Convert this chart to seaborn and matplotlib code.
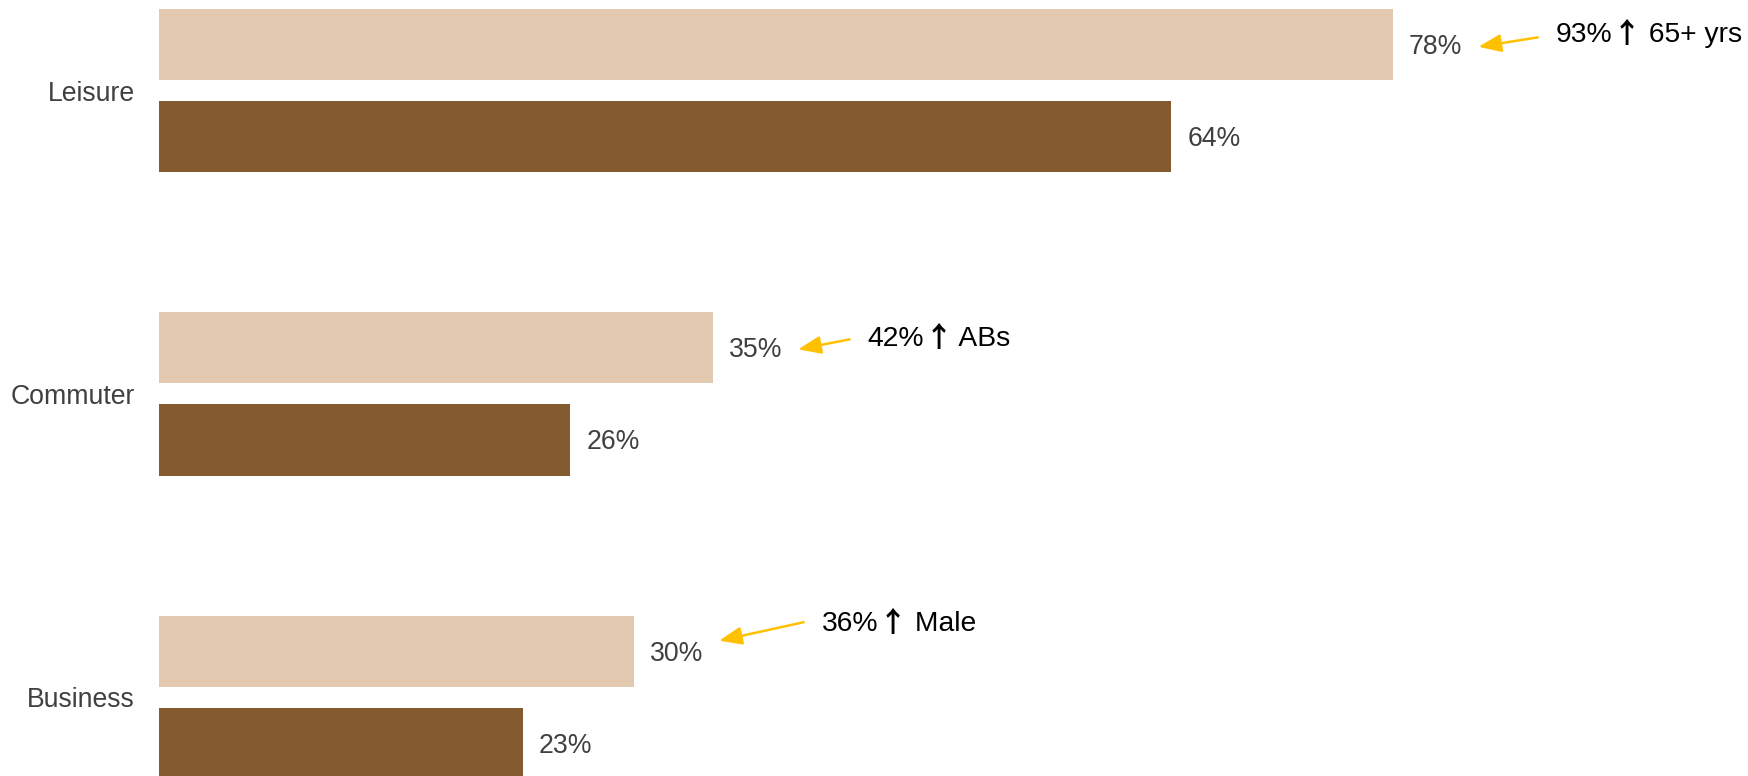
import matplotlib
matplotlib.use("Agg")
import matplotlib.pyplot as plt
import pandas as pd
import seaborn as sns

# Journey purposes and shares for the two waves
journeys = ["Leisure", "Commuter", "Business"]
wave_recent = [78, 35, 30]
wave_earlier = [64, 26, 23]
wave_names = ["Recent", "Earlier"]

# Sub-group call-outs attached to the recent-wave bars: figure, direction, group
callout_values = ["93%", "42%", "36%"]
callout_groups = ["65+ yrs", "ABs", "Male"]
UP = "\u2191"

LIGHT = "#E2C9AF"
DARK = "#845A2F"
GREY = "#404040"
GOLD = "#FFC000"

df = pd.DataFrame({
    "journey": journeys * 2,
    "share": wave_recent + wave_earlier,
    "wave": [wave_names[0]] * len(journeys) + [wave_names[1]] * len(journeys),
})

sns.set_theme(style="white")
plt.rcParams["font.family"] = ["Liberation Sans", "DejaVu Sans"]

W, H = 1748, 776
DPI = 100
fig = plt.figure(figsize=(W / DPI, H / DPI), dpi=DPI)
ax = fig.add_axes([159 / W, 0, (1741 - 159) / W, 1])

sns.barplot(
    data=df, y="journey", x="share", hue="wave", orient="h",
    order=journeys, hue_order=wave_names,
    palette=[LIGHT, DARK], saturation=1, width=0.607, gap=0.228,
    linewidth=0, legend=False, ax=ax, errorbar=None,
)

ax.set_xlim(0, 100)
ax.set_ylim(2.2587, -0.2982)
ax.set_xlabel("")
ax.set_ylabel("")
ax.set_xticks([])
for s in ax.spines.values():
    s.set_visible(False)
ax.tick_params(axis="y", length=0, pad=17.5, labelsize=19.2, labelcolor=GREY)

for cont in ax.containers:
    for lbl in ax.bar_label(cont, fmt="%g%%", padding=11.5, fontsize=19.2, color=GREY):
        lbl.xyann = (11.5, -1.6)

# Call-out layout: text x-offset from the bar end, baseline and arrow heights
text_dx = [10.3, 9.8, 11.9]
text_base = [-0.161, -0.159, -0.220]
arrow_tail = [-0.175, -0.180, -0.248]
arrow_tip = [-0.144, -0.147, -0.187]
CALLOUT_SIZE = 20.3

renderer = fig.canvas.get_renderer()

for i, val in enumerate(wave_recent):
    tx = val + text_dx[i]
    ty = i + text_base[i]
    # three runs on one baseline: value, wide arrow glyph, group name
    runs = [
        (callout_values[i], ["Liberation Sans"], "normal"),
        (UP, ["Noto Sans CJK SC", "DejaVu Sans"], "bold"),
        (" " + callout_groups[i], ["Liberation Sans"], "normal"),
    ]
    offset_pts = 0.0
    for txt, fam, wt in runs:
        t = ax.annotate(
            txt, xy=(tx, ty), xycoords="data",
            xytext=(offset_pts, 0), textcoords="offset points",
            fontsize=CALLOUT_SIZE, family=fam, fontweight=wt, color="black",
            ha="left", va="baseline", annotation_clip=False,
        )
        bb = t.get_window_extent(renderer)
        offset_pts += bb.width * 72.0 / DPI
    ax.annotate(
        "", xy=(val + 5.4, i + arrow_tip[i]),
        xytext=(tx - 1.15, i + arrow_tail[i]),
        arrowprops=dict(arrowstyle="-|>,head_length=1.15,head_width=0.45",
                        color=GOLD, lw=1.8, shrinkA=0, shrinkB=0),
        annotation_clip=False,
    )

fig.savefig("out.png", dpi=DPI)
